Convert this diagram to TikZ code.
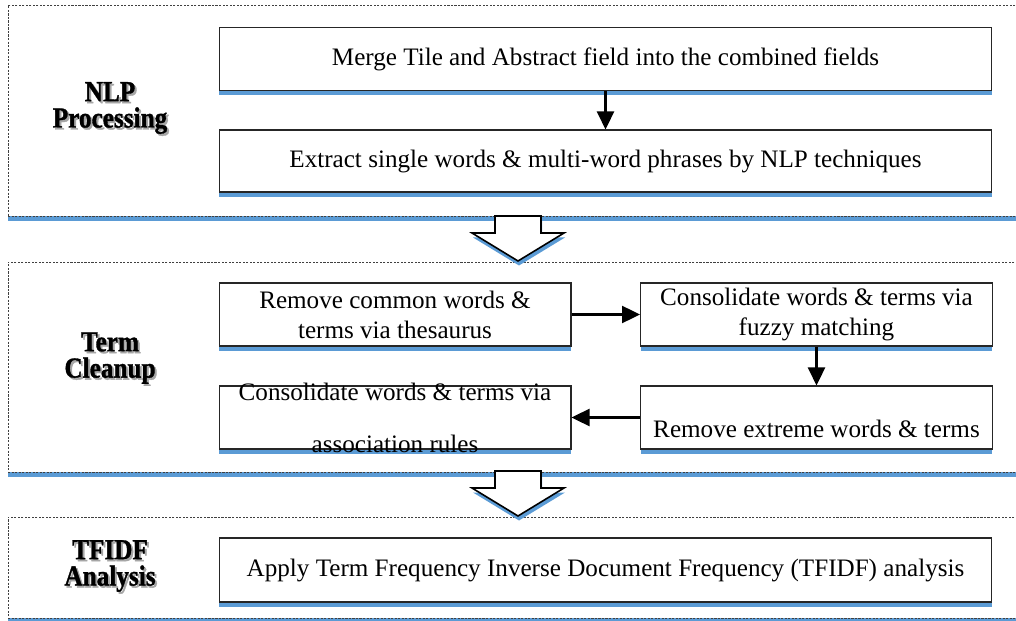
\documentclass[tikz,border=0pt]{standalone}
\usepackage{fontspec}
\setmainfont{Liberation Serif}
\newfontfamily\tagfont[FakeStretch=0.87, FakeBold=1.2]{Liberation Serif}
\usetikzlibrary{arrows.meta,shadows}
\definecolor{shadowblue}{RGB}{91,155,213}

\begin{document}
\begin{tikzpicture}[
  x=0.02cm, y=-0.02cm,
  font=\fontsize{14.3}{17}\selectfont,
  panel/.style={draw=black!75, dash pattern=on 1.2pt off 0.8pt, fill=white, minimum width=20.44cm,
    drop shadow={shadow xshift=0pt, shadow yshift=-0.1cm, fill=shadowblue, opacity=1}},
  stepbox/.style={draw=black!85, line width=0.6pt, fill=white, inner sep=0pt, align=center, minimum height=1.26cm,
    drop shadow={shadow xshift=0pt, shadow yshift=-0.1cm, fill=shadowblue, opacity=1}},
  wide/.style={stepbox, minimum width=15.46cm},
  half/.style={stepbox, minimum width=7.04cm},
  tag/.style={align=center, font=\fontsize{16.5}{15}\selectfont\tagfont\bfseries},
  arrow/.style={-{Triangle[length=0.36cm, width=0.34cm]}, line width=1.35pt},
  bigarrow/.style={draw=black, line width=0.9pt, fill=white,
    drop shadow={shadow xshift=0.02cm, shadow yshift=-0.09cm, fill=shadowblue, opacity=1}}
]
\useasboundingbox (0,0) rectangle (1016,621);
\clip (0,0) rectangle (1016,621);

\node[panel, minimum height=4.22cm] (nlppanel) at (519,110.5) {};
\node[panel, minimum height=4.2cm] (termpanel) at (519,367) {};
\node[panel, minimum height=2.02cm] (tfidfpanel) at (519,567.5) {};

\foreach \yt in {216,471}
  \draw[bigarrow] (495,\yt) -- (541,\yt) -- (541,\yt+17) -- (564,\yt+17) -- (518,\yt+45)
    -- (472,\yt+17) -- (495,\yt+17) -- cycle;

\foreach \name/\ty/\txt in {nlp/108/{NLP\\Processing}, term/358/{Term\\Cleanup}, tfidf/566/{TFIDF\\Analysis}} {
  \node[tag, text=black!35] (\name shade) at (112,\ty+2) {\txt};
  \node[tag] (\name) at (110,\ty) {\txt};
}

\node[wide] (merge) at (605.5,59) {Merge Tile and Abstract field into the combined fields};
\node[wide, minimum height=1.24cm] (extract) at (605.5,161)
  {Extract single words \& multi-word phrases by NLP techniques};

\node[half] (thes) at (395,314.5) {Remove common words \&\\terms via thesaurus};
\node[half] (fuzzy) at (816.5,314.5) {Consolidate words \& terms via\\fuzzy matching};
\node[half] (assoc) at (395,417.5)
  {\raisebox{9.7pt}[0pt][0pt]{\begin{tabular}[t]{@{}c@{}}Consolidate words \& terms via\\[12.5pt]association rules\end{tabular}}};
\node[half] (extreme) at (816.5,417.5) {\raisebox{-11.5pt}[0pt][0pt]{Remove extreme words \& terms}};

\node[wide, minimum height=1.28cm] (tfidfbox) at (605.5,570)
  {Apply Term Frequency Inverse Document Frequency (TFIDF) analysis};

\draw[arrow] (merge) -- (extract);
\draw[arrow] (thes) -- (fuzzy);
\draw[arrow] (fuzzy) -- (extreme);
\draw[arrow] (extreme) -- (assoc);

\end{tikzpicture}
\end{document}
